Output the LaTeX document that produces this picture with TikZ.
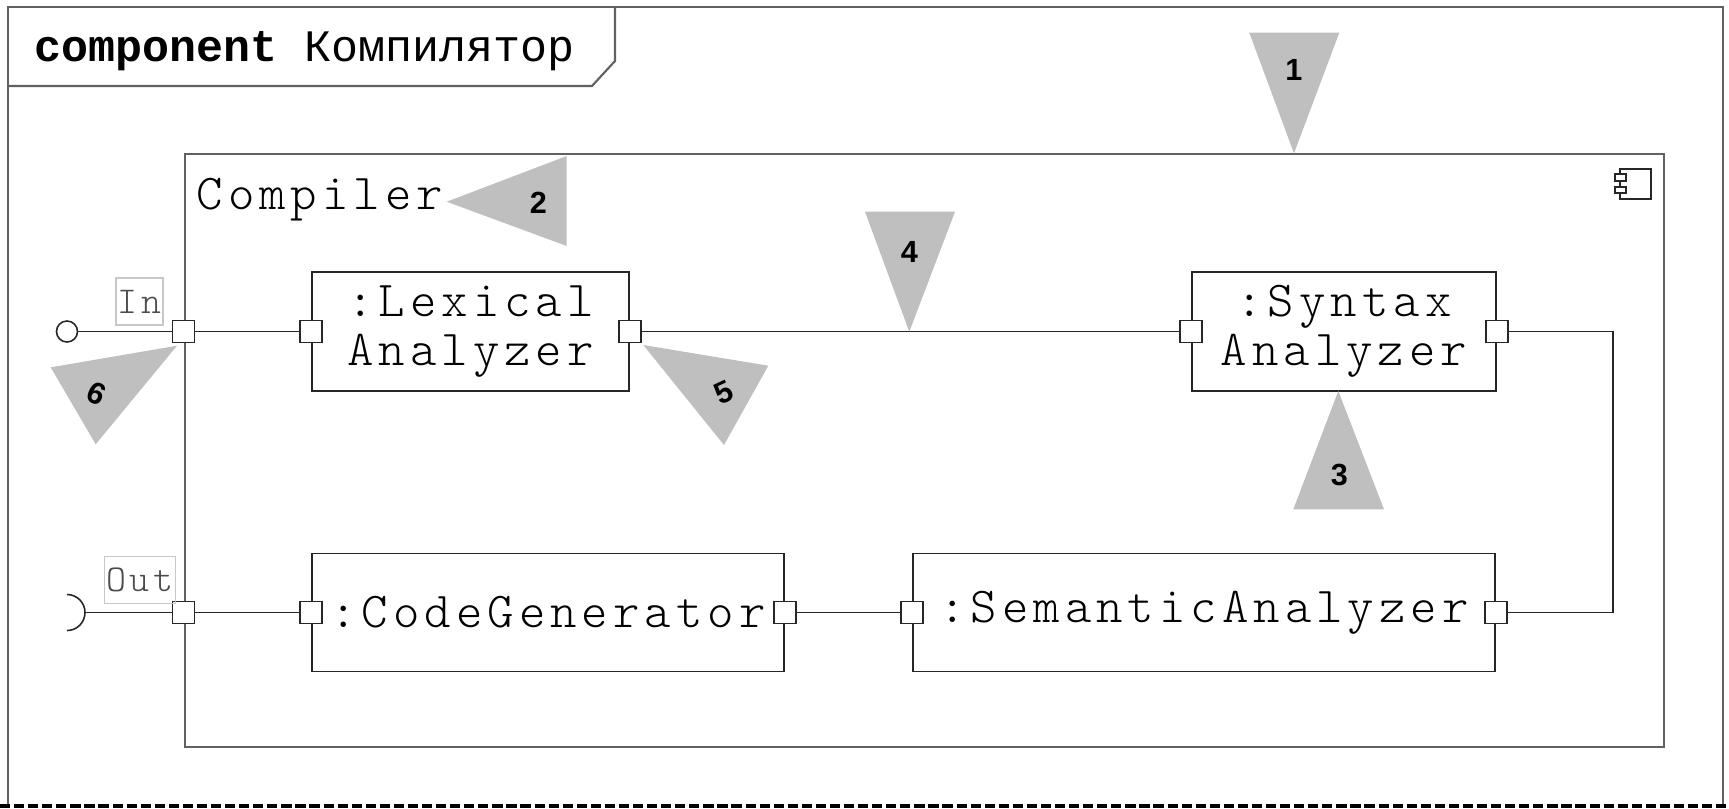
\documentclass[tikz,border=0pt]{standalone}
\usepackage{fontspec}
\setmonofont{Liberation Mono}
\newfontfamily\numfont{Liberation Sans}
\newfontfamily\lmmono[LetterSpace=10]{lmmonolt10-regular.otf}
\definecolor{framegray}{gray}{0.38}
\definecolor{pointergray}{gray}{0.75}
\definecolor{labelborder}{gray}{0.78}
\definecolor{labeltext}{gray}{0.3}
\newcommand\mypartfont{\lmmono\fontsize{14.3}{13.9}\selectfont}
\newcommand\mytitlefont{\ttfamily\fontsize{12.8}{15}\selectfont}
\newcommand\mylabelfont{\lmmono\fontsize{10.8}{12}\selectfont}
\tikzset{
  frame/.style={draw=framegray, line width=0.6pt},
  partbox/.style={draw=black!85, line width=0.45pt, fill=white, inner sep=0pt, align=center, font=\mypartfont},
  port/.style={draw=black!85, line width=0.45pt, fill=white, minimum size=0.22cm, inner sep=0pt},
  wire/.style={draw=black!85, line width=0.45pt},
  icon/.style={draw=black!85, line width=0.35pt, fill=white},
  pointer/.style={fill=pointergray},
  num/.style={font=\numfont\bfseries\fontsize{8.7}{10}\selectfont, inner sep=0pt},
  pinlabel/.style={draw=labelborder, line width=0.35pt, text=labeltext, font=\mylabelfont, inner sep=0pt, minimum height=0.47cm}
}
\begin{document}
\begin{tikzpicture}[x=0.01cm,y=-0.01cm]
\useasboundingbox (0,0) rectangle (1729,808);
% outer frame
\draw[frame] (8,806) -- (8,7) -- (1723,7) -- (1723,804);
\draw[line width=1.1pt, dash pattern=on 2.9pt off 1.1pt] (0,806) -- (1729,806);
\draw[frame] (8,86) -- (592,86) -- (615,61) -- (615,7);
\node[anchor=base west, inner sep=0pt, font=\mytitlefont] (title) at (34,61) {\textbf{component} Компилятор};
% compiler
\node[draw=framegray, line width=0.55pt, minimum width=14.79cm, minimum height=5.925cm, inner sep=0pt] (compiler) at (924.5,450.25) {};
\node[anchor=base west, inner sep=0pt, font=\mypartfont] (compname) at (196,209) {Compiler};
% component icon
\draw[icon] (1620,169) rectangle (1651,199);
\draw[icon] (1615,174) rectangle (1626,181);
\draw[icon] (1615,187) rectangle (1626,193);
% parts
\node[partbox, minimum width=3.17cm, minimum height=1.19cm] (lex) at (470.5,331.5) {:Lexical\\Analyzer};
\node[partbox, minimum width=3.04cm, minimum height=1.19cm] (syn) at (1344,331.5) {:Syntax\\Analyzer};
\node[partbox, minimum width=4.72cm, minimum height=1.18cm] (cod) at (548,612.5) {:CodeGenerator};
\node[partbox, minimum width=5.82cm, minimum height=1.18cm] (sem) at (1204,612.5) {:SemanticAnalyzer};
% ports
\node[port] (pin) at (compiler.west |- lex.west) {};
\node[port] (plexL) at (lex.west) {};
\node[port] (plexR) at (lex.east) {};
\node[port] (psynL) at (syn.west) {};
\node[port] (psynR) at (syn.east) {};
\node[port] (pcodL) at (cod.west) {};
\node[port] (pcodR) at (cod.east) {};
\node[port] (psemL) at (sem.west) {};
\node[port] (psemR) at (sem.east) {};
\node[port] (pout) at (compiler.west |- cod.west) {};
% external interfaces
\node[circle, draw=black!85, line width=0.45pt, minimum size=0.21cm, inner sep=0pt] (inball) at (67,331.5) {};
\coordinate (outsock) at (85,612.5);
\coordinate (cR) at (1612.7,472);
% wires
\draw[wire] (inball) -- (pin);
\draw[wire] (pin) -- (plexL);
\draw[wire] (plexR) -- (psynL);
\draw[wire] (psynR) -| (cR) |- (psemR);
\draw[wire] (psemL) -- (pcodR);
\draw[wire] (pcodL) -- (pout);
\draw[wire] (outsock) -- (pout);
\draw[wire] (outsock) ++(-18,-18) arc[start angle=90, end angle=-90, radius=0.18cm];
% port labels
\node[pinlabel, minimum width=0.47cm] (inlabel) at (139.5,301.5) {In};
\node[pinlabel, minimum width=0.714cm] (outlabel) at (140,579.7) {Out};
% pointers
\fill[pointer] (1249.3,32.7) -- (1339.3,32.7) -- (1294,153.3) -- cycle;
\node[num] (n1) at (1294,70) {1};
\fill[pointer] (446.7,201.7) -- (566.7,156) -- (566.7,246) -- cycle;
\node[num] (n2) at (538.3,203.3) {2};
\fill[pointer] (1338.3,391) -- (1293.3,509.3) -- (1384,509.3) -- cycle;
\node[num] (n3) at (1339.3,475) {3};
\fill[pointer] (865,211.7) -- (955,211.7) -- (909.3,331.7) -- cycle;
\node[num] (n4) at (909.3,251.7) {4};
\fill[pointer] (643.3,345) -- (768.3,365.7) -- (724,445) -- cycle;
\node[num, rotate=25] (n5) at (724,392.7) {5};
\fill[pointer] (177,345.7) -- (50.7,367.3) -- (95.7,444.3) -- cycle;
\node[num, rotate=-25] (n6) at (96.7,393.3) {6};
\end{tikzpicture}
\end{document}
